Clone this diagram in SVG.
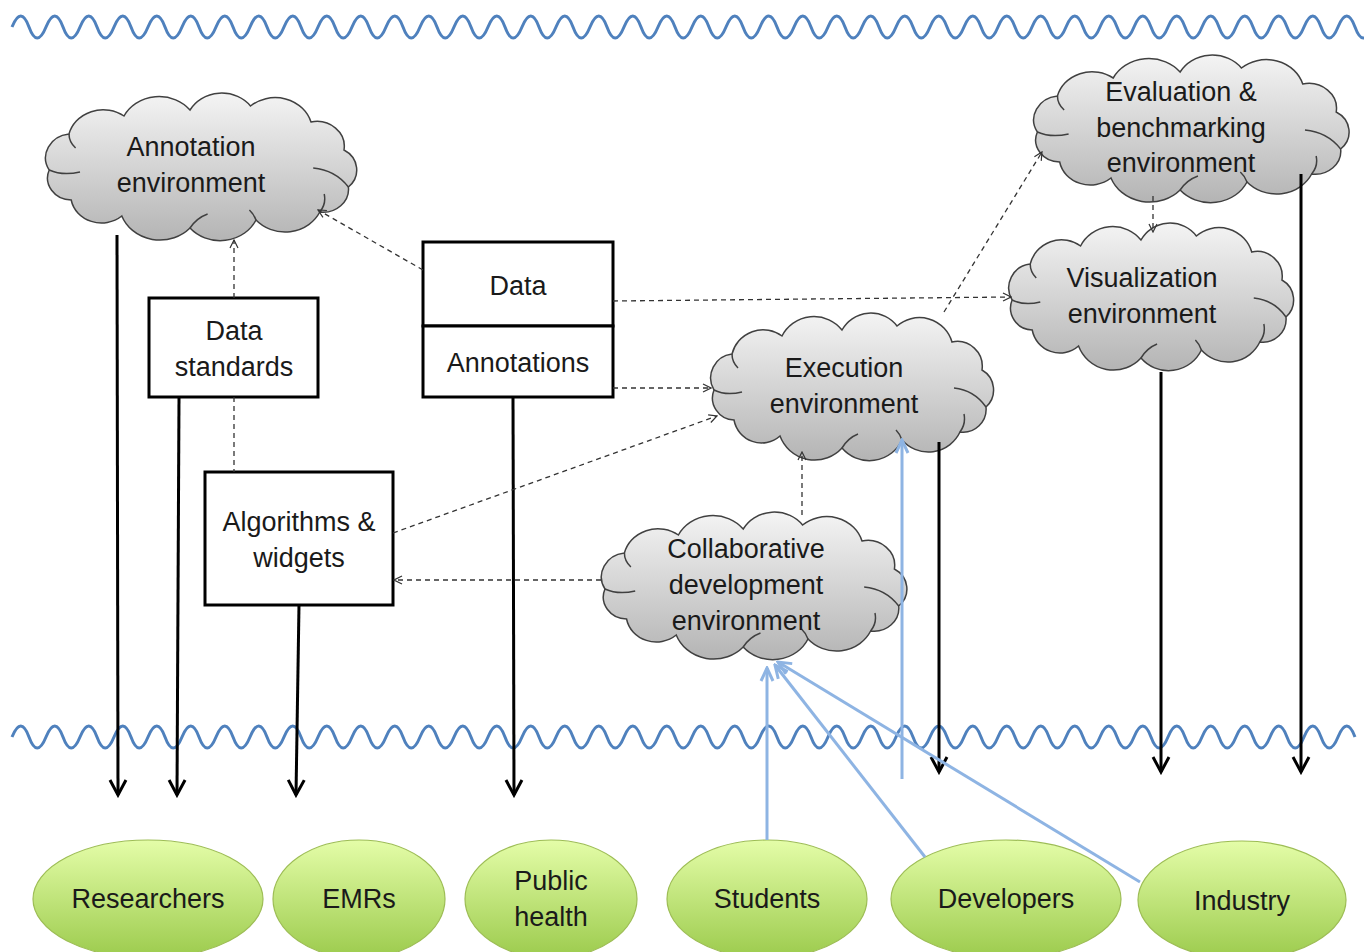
<svg xmlns="http://www.w3.org/2000/svg" width="1364" height="952" viewBox="0 0 1364 952">
<style>
text{font-family:"Liberation Sans",Arial,sans-serif;font-size:27px;fill:#1a1a1a;text-anchor:middle}
.wave{fill:none;stroke:#4f81bd;stroke-width:3}
.box{fill:#fff;stroke:#000;stroke-width:3}
.solid{fill:none;stroke:#000;stroke-width:3;marker-end:url(#ah)}
.dash{fill:none;stroke:#333;stroke-width:1.3;stroke-dasharray:5 4}
.dasha{marker-end:url(#dh)}
.blue{fill:none;stroke:#8eb4e3;stroke-width:3;marker-end:url(#bh)}
.ell{fill:url(#gg);stroke:#9dbd55;stroke-width:1.2}
</style>
<defs>
<linearGradient id="cg" x1="0" y1="0" x2="0" y2="1"><stop offset="0" stop-color="#f4f4f4"/><stop offset="1" stop-color="#b4b4b4"/></linearGradient>
<linearGradient id="gg" x1="0" y1="0" x2="0" y2="1"><stop offset="0" stop-color="#e4fda8"/><stop offset="1" stop-color="#9ccb4d"/></linearGradient>
<g id="cloud">
<path d="M12,78 A24,24 0 0 1 30,42 A32,32 0 0 1 80,24 A36,36 0 0 1 140,18 A33,33 0 0 1 195,14 A34,34 0 0 1 250,30 A25,25 0 0 1 280,58 A23,23 0 0 1 284,95 A23,23 0 0 1 258,120 A35,35 0 0 1 200,128 A36,36 0 0 1 140,136 A37,37 0 0 1 78,124 A28,28 0 0 1 32,108 A22,22 0 0 1 12,78 Z" fill="url(#cg)" stroke="#404040" stroke-width="1.5" vector-effect="non-scaling-stroke"/>
<path d="M12,78 Q24,84 40,80 M30,42 Q30,50 36,56 M284,95 Q272,78 252,76 M258,120 Q264,112 262,102 M140,136 Q146,126 156,122 M200,128 Q198,122 194,118" fill="none" stroke="#404040" stroke-width="1.5" vector-effect="non-scaling-stroke"/>
</g>
<marker id="ah" viewBox="0 0 20 20" refX="17" refY="10" markerWidth="20" markerHeight="20" markerUnits="userSpaceOnUse" orient="auto"><path d="M2,2 L17,10 L2,18" fill="none" stroke="#000" stroke-width="3"/></marker>
<marker id="dh" viewBox="0 0 10 10" refX="9" refY="5" markerWidth="10" markerHeight="10" markerUnits="userSpaceOnUse" orient="auto"><path d="M1,1 L9,5 L1,9" fill="none" stroke="#333" stroke-width="1.2"/></marker>
<marker id="bh" viewBox="0 0 16 16" refX="14" refY="8" markerWidth="16" markerHeight="16" markerUnits="userSpaceOnUse" orient="auto"><path d="M1,2 L14,8 L1,14" fill="none" stroke="#8eb4e3" stroke-width="3"/></marker>
</defs>
<rect width="1364" height="952" fill="#fff"/>
<g id="waves">
<path class="wave" d="M12,27 q9,-22 17,0 t17,0 t17,0 t17,0 t17,0 t17,0 t17,0 t17,0 t17,0 t17,0 t17,0 t17,0 t17,0 t17,0 t17,0 t17,0 t17,0 t17,0 t17,0 t17,0 t17,0 t17,0 t17,0 t17,0 t17,0 t17,0 t17,0 t17,0 t17,0 t17,0 t17,0 t17,0 t17,0 t17,0 t17,0 t17,0 t17,0 t17,0 t17,0 t17,0 t17,0 t17,0 t17,0 t17,0 t17,0 t17,0 t17,0 t17,0 t17,0 t17,0 t17,0 t17,0 t17,0 t17,0 t17,0 t17,0 t17,0 t17,0 t17,0 t17,0 t17,0 t17,0 t17,0 t17,0 t17,0 t17,0 t17,0 t17,0 t17,0 t17,0 t17,0 t17,0 t17,0 t17,0 t17,0 t17,0 t17,0 t17,0 t17,0 t17,0"/>
<path class="wave" d="M12,737 q9,-22 17,0 t17,0 t17,0 t17,0 t17,0 t17,0 t17,0 t17,0 t17,0 t17,0 t17,0 t17,0 t17,0 t17,0 t17,0 t17,0 t17,0 t17,0 t17,0 t17,0 t17,0 t17,0 t17,0 t17,0 t17,0 t17,0 t17,0 t17,0 t17,0 t17,0 t17,0 t17,0 t17,0 t17,0 t17,0 t17,0 t17,0 t17,0 t17,0 t17,0 t17,0 t17,0 t17,0 t17,0 t17,0 t17,0 t17,0 t17,0 t17,0 t17,0 t17,0 t17,0 t17,0 t17,0 t17,0 t17,0 t17,0 t17,0 t17,0 t17,0 t17,0 t17,0 t17,0 t17,0 t17,0 t17,0 t17,0 t17,0 t17,0 t17,0 t17,0 t17,0 t17,0 t17,0 t17,0 t17,0 t17,0 t17,0 t17,0"/>
</g>
<g id="annotation-env"><use href="#cloud" transform="translate(36,92) scale(1.1,1)"/><text x="191" y="156">Annotation</text><text x="191" y="192">environment</text></g>
<g id="evaluation-env"><use href="#cloud" transform="translate(1024,54) scale(1.115,1)"/><text x="1181" y="101">Evaluation &amp;</text><text x="1181" y="137">benchmarking</text><text x="1181" y="172">environment</text></g>
<g id="visualization-env"><use href="#cloud" transform="translate(1000,222) scale(1.007,1)"/><text x="1142" y="287">Visualization</text><text x="1142" y="323">environment</text></g>
<g id="execution-env"><use href="#cloud" transform="translate(702,312) scale(1.0,1)"/><text x="844" y="377">Execution</text><text x="844" y="413">environment</text></g>
<g id="collaborative-env"><use href="#cloud" transform="translate(592,511) scale(1.08,1)"/><text x="746" y="558">Collaborative</text><text x="746" y="594">development</text><text x="746" y="630">environment</text></g>
<g id="data-standards"><rect class="box" x="149" y="298" width="169" height="99"/><text x="234" y="340">Data</text><text x="234" y="376">standards</text></g>
<g id="data"><rect class="box" x="423" y="242" width="190" height="84"/><text x="518" y="295">Data</text></g>
<g id="annotations"><rect class="box" x="423" y="326" width="190" height="71"/><text x="518" y="372">Annotations</text></g>
<g id="algorithms"><rect class="box" x="205" y="472" width="188" height="133"/><text x="299" y="531">Algorithms &amp;</text><text x="299" y="567">widgets</text></g>
<g id="researchers"><ellipse class="ell" cx="148" cy="899" rx="115" ry="59"/><text x="148" y="908">Researchers</text></g>
<g id="emrs"><ellipse class="ell" cx="359" cy="899" rx="86" ry="59"/><text x="359" y="908">EMRs</text></g>
<g id="public-health"><ellipse class="ell" cx="551" cy="899" rx="86" ry="59"/><text x="551" y="890">Public</text><text x="551" y="926">health</text></g>
<g id="students"><ellipse class="ell" cx="767" cy="899" rx="100" ry="59"/><text x="767" y="908">Students</text></g>
<g id="developers"><ellipse class="ell" cx="1006" cy="899" rx="115" ry="59"/><text x="1006" y="908">Developers</text></g>
<g id="industry"><ellipse class="ell" cx="1242" cy="900" rx="104" ry="59"/><text x="1242" y="910">Industry</text></g>
<g id="connectors">
<line class="solid" x1="117" y1="235" x2="118" y2="795"/>
<line class="solid" x1="179" y1="398" x2="177" y2="795"/>
<line class="solid" x1="299" y1="605" x2="296" y2="795"/>
<line class="solid" x1="513" y1="397" x2="514" y2="795"/>
<line class="solid" x1="939" y1="442" x2="939" y2="772"/>
<line class="solid" x1="1161" y1="372" x2="1161" y2="772"/>
<line class="solid" x1="1301" y1="174" x2="1301" y2="772"/>
<line class="dash dasha" x1="423" y1="270" x2="318" y2="210"/>
<line class="dash dasha" x1="234" y1="298" x2="234" y2="240"/>
<line class="dash" x1="234" y1="397" x2="234" y2="472"/>
<line class="dash dasha" x1="613" y1="301" x2="1011" y2="297"/>
<line class="dash dasha" x1="613" y1="388" x2="711" y2="388"/>
<line class="dash dasha" x1="393" y1="533" x2="717" y2="416"/>
<line class="dash dasha" x1="601" y1="580" x2="394" y2="580"/>
<line class="dash dasha" x1="802" y1="515" x2="802" y2="452"/>
<line class="dash dasha" x1="944" y1="312" x2="1042" y2="152"/>
<line class="dash dasha" x1="1153" y1="196" x2="1153" y2="232"/>
<line class="blue" x1="767" y1="840" x2="767" y2="668"/>
<line class="blue" x1="925" y1="857" x2="775" y2="665"/>
<line class="blue" x1="1140" y1="882" x2="778" y2="662"/>
<line class="blue" x1="902" y1="779" x2="902" y2="440"/>
</g>
</svg>
